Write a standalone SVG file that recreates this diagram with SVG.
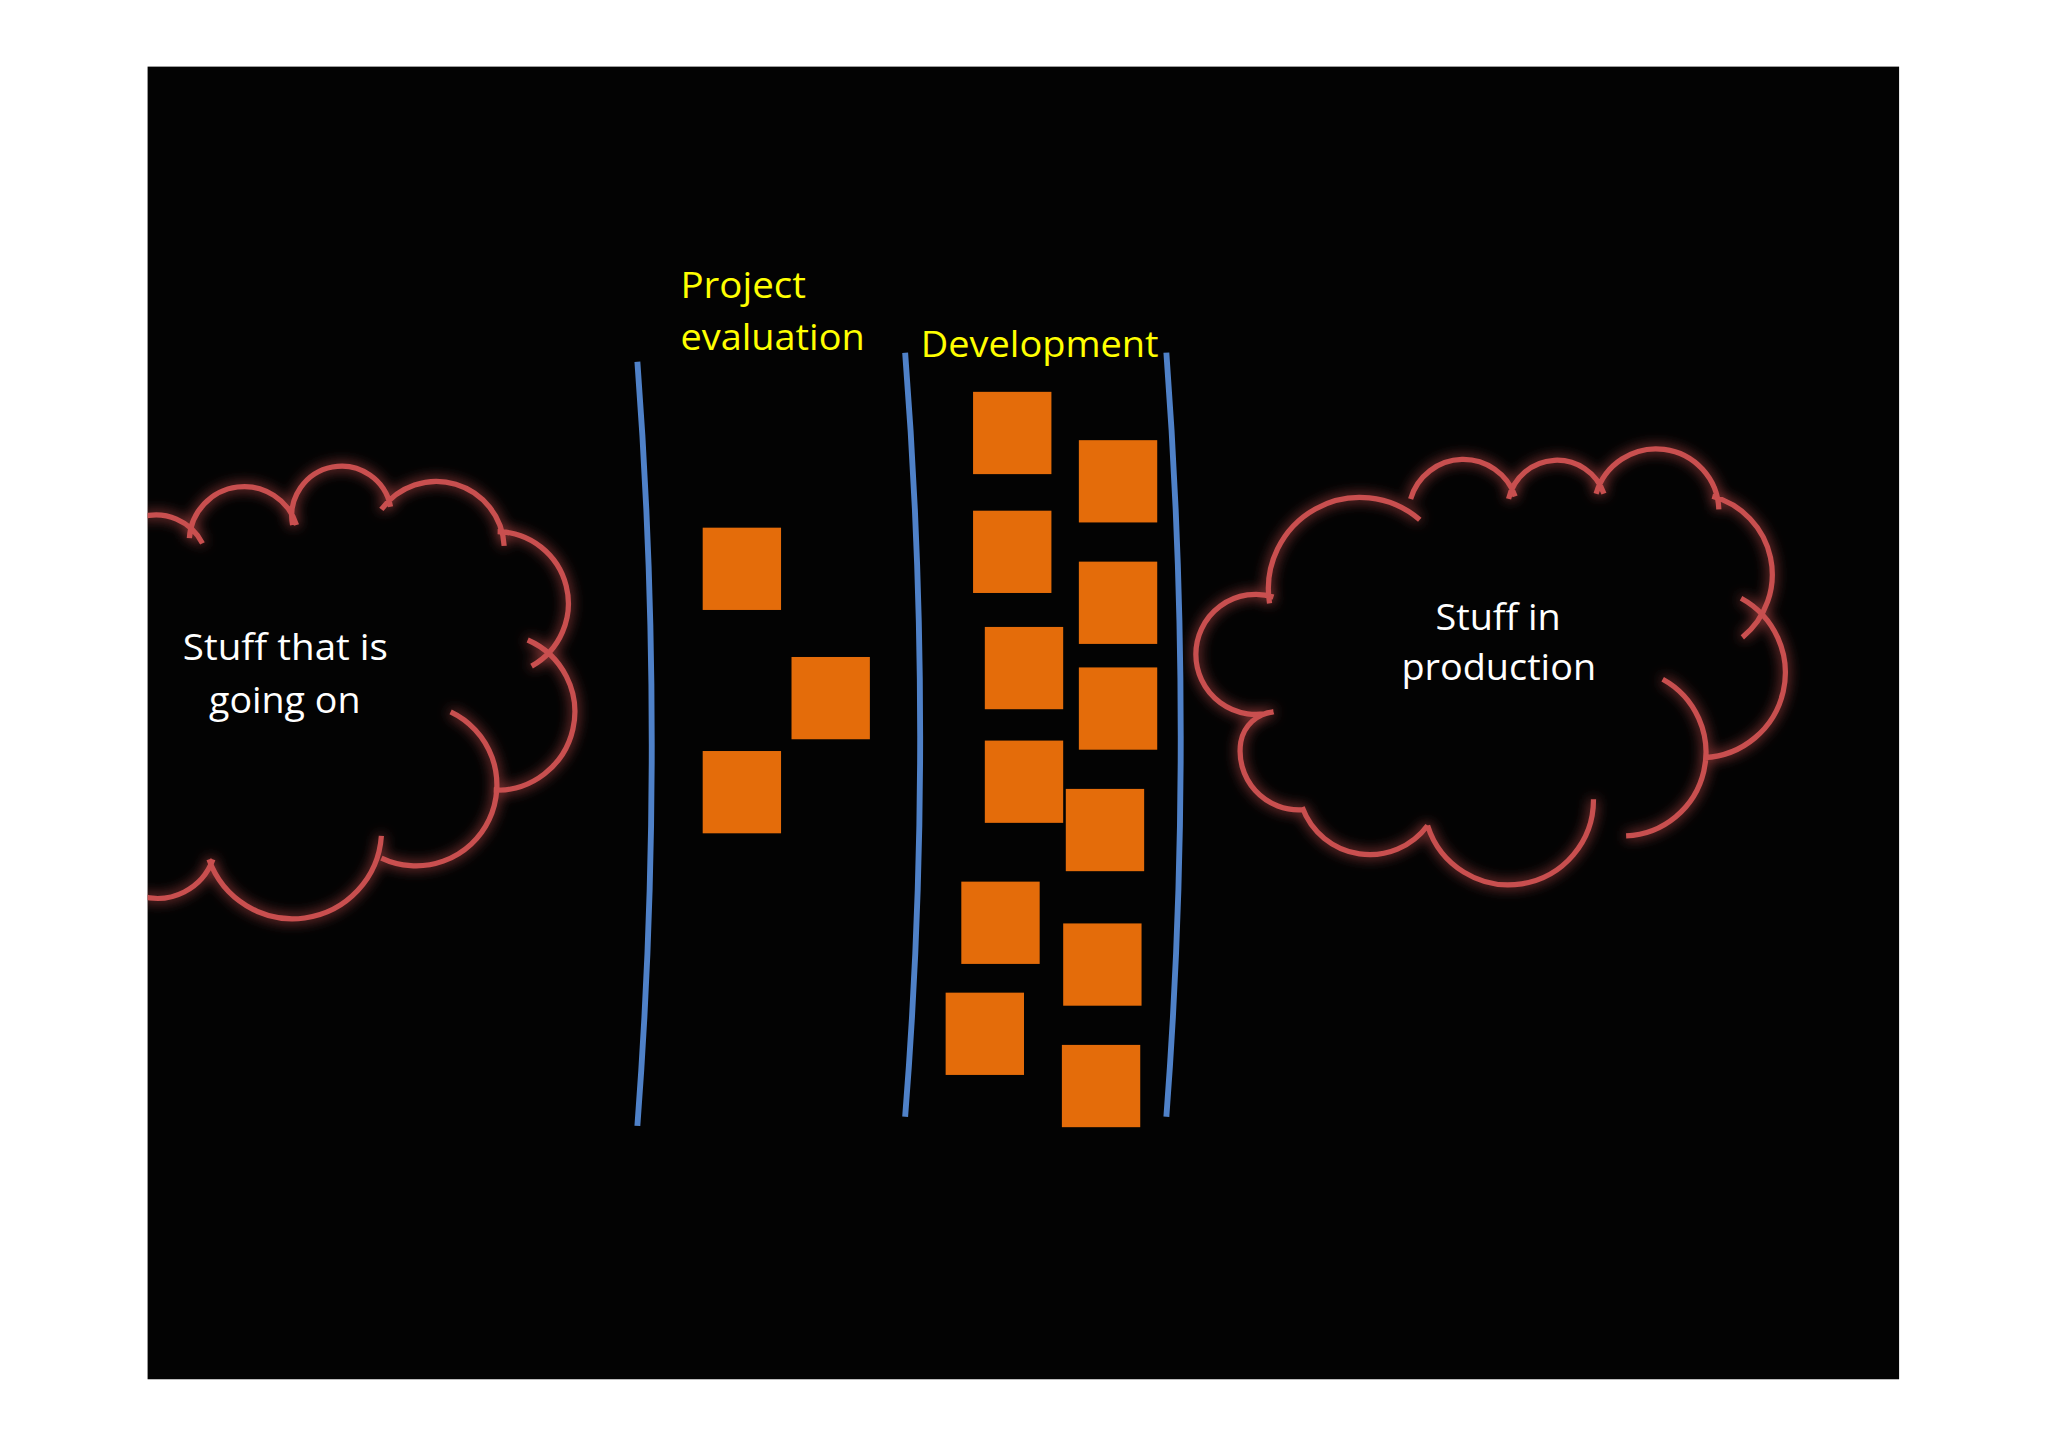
<svg xmlns="http://www.w3.org/2000/svg" width="2048" height="1447" viewBox="0 0 2048 1447">
<defs>
<filter id="glow" x="-20%" y="-20%" width="140%" height="140%">
<feGaussianBlur in="SourceGraphic" stdDeviation="5" result="b"/>
<feMerge><feMergeNode in="b"/><feMergeNode in="SourceGraphic"/></feMerge>
</filter>
<clipPath id="bg"><rect x="113" y="51" width="1341" height="1005"/></clipPath>
</defs>
<style>
.cloud{fill:none;stroke:#c9504f;stroke-width:4;filter:url(#glow)}
.lane{fill:none;stroke:#4f81c8;stroke-width:4.5}
.box{fill:#e46c0a}
.lbl{font-family:"Open Sans","Liberation Sans",Arial,sans-serif;font-size:28px}
.y{fill:#ffff00}
.w{fill:#ffffff}
</style>
<rect width="2048" height="1447" fill="#ffffff"/>
<g transform="scale(1.30612)">
<rect x="113" y="51" width="1341" height="1005" fill="#030303"/>
<g id="cloud-left" clip-path="url(#bg)">
<path class="cloud" d="M108,396 A40,40 0 0 1 155,416 M145,412 A42,42 0 0 1 227,402 M224,402 A38,38 0 0 1 299,388 M292,390 A52,52 0 0 1 386,418 M381,407 A55,55 0 0 1 407,510 M404,490 A60,60 0 0 1 378,605 M345,545 A60,60 0 0 1 292,657 M292,640 A68,68 0 0 1 160,658 M163,658 A45,45 0 0 1 108,686"/>
<text class="lbl w" x="140" y="505" textLength="157" lengthAdjust="spacingAndGlyphs">Stuff that is</text>
<text class="lbl w" x="160" y="546" textLength="116" lengthAdjust="spacingAndGlyphs">going on</text>
</g>
<g id="cloud-right">
<path class="cloud" d="M975,457 A46,46 0 1 0 975,545 M972,462 A70,70 0 0 1 1087,398 M1080,382 A42,42 0 0 1 1160,380 M1155,382 A38,38 0 0 1 1228,378 M1222,378 A48,48 0 0 1 1316,390 M1311,380 A62,62 0 0 1 1334,488 M1333,458 A65,65 0 0 1 1305,580 M1273,520 A64,64 0 0 1 1245,640 M1220,612 A65,65 0 0 1 1093,632 M1093,632 A55,55 0 0 1 997,618 M997,620 A45,45 0 0 1 950,568 M950,568 A28,28 0 0 1 975,545"/>
<text class="lbl w" x="1099" y="482" textLength="96" lengthAdjust="spacingAndGlyphs">Stuff in</text>
<text class="lbl w" x="1073" y="521" textLength="149" lengthAdjust="spacingAndGlyphs">production</text>
</g>
<g id="lanes">
<path class="lane" d="M488,277 Q510,570 488,862"/>
<path class="lane" d="M693,270 Q716,565 693,855"/>
<path class="lane" d="M893,270 Q915,565 893,855"/>
</g>
<g id="labels">
<text class="lbl y" x="521" y="228" textLength="96" lengthAdjust="spacingAndGlyphs">Project</text>
<text class="lbl y" x="521" y="268" textLength="141" lengthAdjust="spacingAndGlyphs">evaluation</text>
<text class="lbl y" x="705" y="273" textLength="182" lengthAdjust="spacingAndGlyphs">Development</text>
</g>
<g id="items">
<rect class="box" x="538" y="404" width="60" height="63"/>
<rect class="box" x="606" y="503" width="60" height="63"/>
<rect class="box" x="538" y="575" width="60" height="63"/>
<rect class="box" x="745" y="300" width="60" height="63"/>
<rect class="box" x="826" y="337" width="60" height="63"/>
<rect class="box" x="745" y="391" width="60" height="63"/>
<rect class="box" x="826" y="430" width="60" height="63"/>
<rect class="box" x="754" y="480" width="60" height="63"/>
<rect class="box" x="826" y="511" width="60" height="63"/>
<rect class="box" x="754" y="567" width="60" height="63"/>
<rect class="box" x="816" y="604" width="60" height="63"/>
<rect class="box" x="736" y="675" width="60" height="63"/>
<rect class="box" x="814" y="707" width="60" height="63"/>
<rect class="box" x="724" y="760" width="60" height="63"/>
<rect class="box" x="813" y="800" width="60" height="63"/>
</g>
</g>
</svg>
